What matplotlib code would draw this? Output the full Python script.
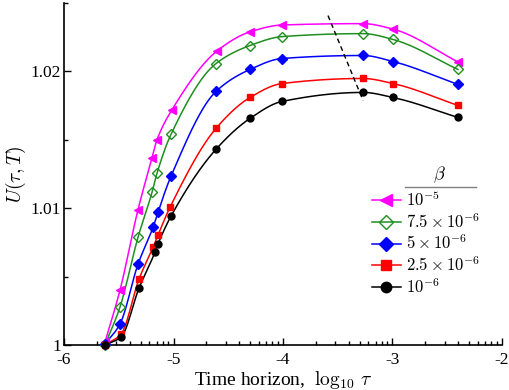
import numpy as np
import matplotlib
matplotlib.use("Agg")
import matplotlib.pyplot as plt
from matplotlib.ticker import FixedLocator, FuncFormatter, LogLocator, NullFormatter
from matplotlib.lines import Line2D

plt.rcParams['font.family'] = ['Liberation Serif', 'DejaVu Serif']
plt.rcParams['mathtext.fontset'] = 'cm'

# ---- data (log10 tau, U) ----
labels = [r'$10^{-5}$', r'$7.5\times10^{-6}$', r'$5\times10^{-6}$',
          r'$2.5\times10^{-6}$', r'$10^{-6}$']

x_m = [-5.626, -5.489, -5.324, -5.196, -5.151, -5.014, -4.603, -4.301, -4.009, -3.269, -2.995, -2.402]
y_m = [1.0002, 1.0040, 1.0099, 1.0137, 1.0150, 1.0172, 1.0215, 1.0229, 1.0234, 1.0235, 1.0231, 1.0207]

x_g = [-5.626, -5.489, -5.324, -5.196, -5.151, -5.023, -4.612, -4.301, -4.009, -3.269, -2.995, -2.402]
y_g = [1.0000, 1.00277, 1.00788, 1.01117, 1.01255, 1.01540, 1.02058, 1.02190, 1.02255, 1.02277, 1.02234, 1.02015]

x_b = [-5.626, -5.489, -5.324, -5.187, -5.142, -5.023, -4.612, -4.301, -4.009, -3.269, -2.995, -2.402]
y_b = [1.00007, 1.00153, 1.00591, 1.00861, 1.00971, 1.01234, 1.01854, 1.02015, 1.02095, 1.02117, 1.02073, 1.01905]

x_r = [-5.626, -5.479, -5.315, -5.187, -5.142, -5.032, -4.612, -4.301, -4.009, -3.269, -2.995, -2.402]
y_r = [1.0000, 1.00080, 1.00482, 1.00715, 1.00803, 1.01007, 1.01584, 1.01810, 1.01912, 1.01949, 1.01912, 1.01752]

x_k = [-5.626, -5.479, -5.315, -5.169, -5.142, -5.023, -4.612, -4.301, -4.009, -3.269, -2.995, -2.402]
y_k = [1.0000, 1.00058, 1.00416, 1.00679, 1.00737, 1.00942, 1.01431, 1.01657, 1.01781, 1.01847, 1.01810, 1.01664]

dash_x = [-3.589, -3.269]
dash_y = [1.02409, 1.01788]

xticks = [-6, -5, -4, -3, -2]
yticks = [1.0, 1.01, 1.02]
yminor = [1.005, 1.015, 1.025]


def pchip(x, y, xn):
    x = np.asarray(x, float); y = np.asarray(y, float)
    h = np.diff(x); d = np.diff(y) / h
    n = len(x); m = np.zeros(n)
    for k in range(1, n - 1):
        if d[k - 1] * d[k] > 0:
            w1 = 2 * h[k] + h[k - 1]; w2 = h[k] + 2 * h[k - 1]
            m[k] = (w1 + w2) / (w1 / d[k - 1] + w2 / d[k])
    m[0] = d[0]; m[-1] = d[-1]
    idx = np.clip(np.searchsorted(x, xn) - 1, 0, n - 2)
    t = (xn - x[idx]) / h[idx]
    h00 = 2 * t**3 - 3 * t**2 + 1; h10 = t**3 - 2 * t**2 + t
    h01 = -2 * t**3 + 3 * t**2; h11 = t**3 - t**2
    return h00 * y[idx] + h10 * h[idx] * m[idx] + h01 * y[idx + 1] + h11 * h[idx] * m[idx + 1]


fig = plt.figure(figsize=(5.1, 3.9), dpi=100)
ax = fig.add_axes([0.1255, 0.1154, 0.8588, 0.8766])

series = [
    (x_m, y_m, '#ff00ff', '<', '#ff00ff'),
    (x_g, y_g, '#1f8f1f', 'D', 'none'),
    (x_b, y_b, '#0000ff', 'D', '#0000ff'),
    (x_r, y_r, '#ff0000', 's', '#ff0000'),
    (x_k, y_k, '#000000', 'o', '#000000'),
]
msz = {'<': 5.5, 'D': 4.6, 's': 5.0, 'o': 5.0}
handles = []
for (xs, ys, c, mk, fc), lab in zip(series, labels):
    xs = np.array(xs); ys = np.array(ys)
    xf = np.linspace(xs[0], xs[-1], 400)
    yf = pchip(xs, ys, xf)
    ax.plot(10**xf, yf, color=c, lw=1.1, zorder=2)
    ax.plot(10**xs, ys, ls='none', marker=mk, ms=msz[mk], mfc=fc, mec=c,
            mew=1.0, zorder=3, clip_on=False)
    handles.append(Line2D([], [], color=c, lw=1.1, marker=mk, ms=msz[mk] + 2.5,
                          mfc=fc, mec=c, mew=1.0))

ax.plot(10**np.array(dash_x), dash_y, color='black', ls=(0, (3.5, 2.5)), lw=1.0, zorder=4)

ax.set_xscale('log')
ax.set_xlim(1e-6, 1e-2)
ax.set_ylim(1.0, 1.025)
ax.xaxis.set_major_locator(FixedLocator([10.0**v for v in xticks]))
ax.xaxis.set_major_formatter(FuncFormatter(lambda v, p: '%d' % int(round(np.log10(v)))))
ax.xaxis.set_minor_locator(LogLocator(base=10, subs=np.arange(2, 10)))
ax.xaxis.set_minor_formatter(NullFormatter())
ax.yaxis.set_major_locator(FixedLocator(yticks))
ax.yaxis.set_major_formatter(FuncFormatter(lambda v, p: ('%g' % v)))
ax.yaxis.set_minor_locator(FixedLocator(yminor))

for s in ['top', 'right']:
    ax.spines[s].set_visible(False)
for s in ['left', 'bottom']:
    ax.spines[s].set_linewidth(1.2)
ax.tick_params(which='major', direction='in', length=5, width=1.0, labelsize=12.5)
ax.tick_params(axis='x', which='major', pad=5)
ax.tick_params(axis='y', which='major', pad=2)
ax.tick_params(which='minor', direction='in', length=3, width=1.0)
for lbl in ax.get_yticklabels():
    pass

ax.set_xlabel(r'Time horizon,  $\log_{10}\,\tau$', fontsize=14, labelpad=1)
ax.set_ylabel(r'$U(\tau,T)$', fontsize=14, labelpad=2)

leg = ax.legend(handles, labels, loc='upper left', bbox_to_anchor=(0.703, 0.452),
                frameon=False, fontsize=12, handlelength=1.75, handletextpad=0.3,
                labelspacing=0.18, borderaxespad=0, borderpad=0)
ax.text(0.858, 0.468, r'$\beta$', transform=ax.transAxes, ha='center', va='bottom', fontsize=13)
ax.add_line(Line2D([0.779, 0.941], [0.462, 0.462], transform=ax.transAxes,
                   color='#808080', lw=1.0))

fig.savefig('out.png', dpi=100)
